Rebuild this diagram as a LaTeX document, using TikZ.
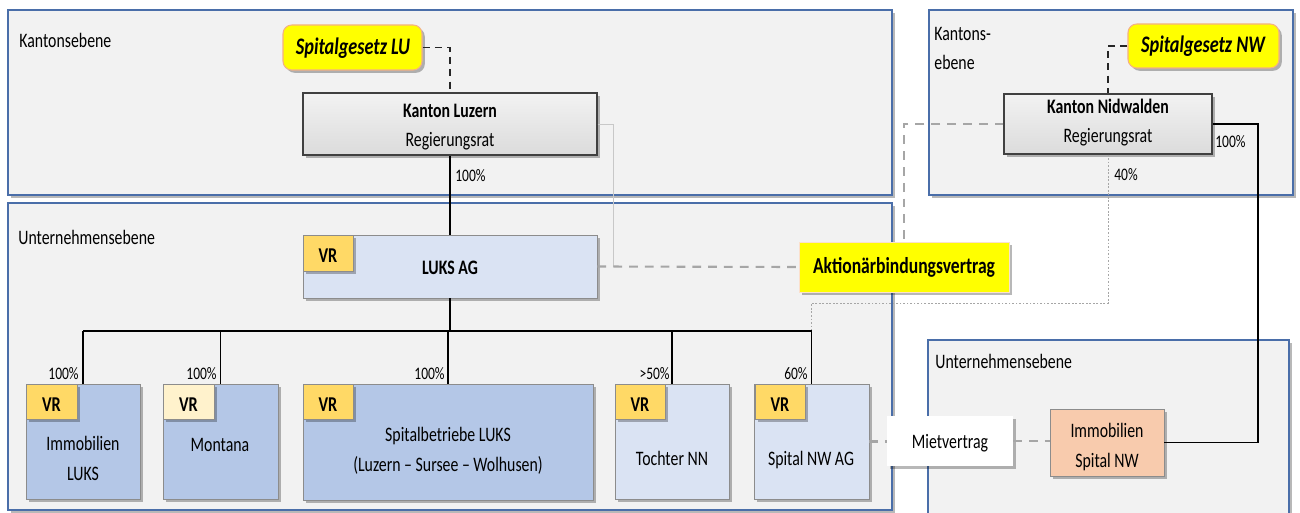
\documentclass[tikz,border=0pt]{standalone}
\usepackage{fontspec}
\setmainfont[FakeStretch=0.77]{Carlito}
\usetikzlibrary{fit,shadows}
\definecolor{panelfill}{HTML}{F2F2F2}
\definecolor{panelline}{HTML}{4A6EA9}
\definecolor{lightblue}{HTML}{DAE3F3}
\definecolor{midblue}{HTML}{B4C7E7}
\definecolor{vrgold}{HTML}{FFD966}
\definecolor{vrpale}{HTML}{FFF2CC}
\definecolor{peach}{HTML}{F8CBAD}
\definecolor{lawyellow}{HTML}{FFFF00}
\definecolor{lawedge}{HTML}{F4B183}
\definecolor{boxedge}{HTML}{8C8C8C}
\definecolor{linkgray}{HTML}{A6A6A6}
\definecolor{thingray}{HTML}{C8C8C8}
\begin{document}
\begin{tikzpicture}[x=0.02cm, y=-0.02cm,
  shade/.style={drop shadow={shadow xshift=1.6pt, shadow yshift=-1.6pt, opacity=0.28, fill=black}},
  base/.style={inner sep=0pt},
  panel/.style={base, draw=panelline, line width=1.1pt, fill=panelfill, shade},
  txt/.style={inner sep=0pt, anchor=base, align=center, font=\fontsize{11.7}{17}\selectfont},
  panellabel/.style={txt, anchor=base west, align=left},
  kanton/.style={base, draw=black!75, line width=0.8pt, top color=gray!10, bottom color=gray!28, shade},
  law/.style={base, draw=lawedge, line width=0.6pt, fill=lawyellow, rounded corners=5pt, shade},
  lawtext/.style={txt, font=\fontsize{13.5}{17}\selectfont\bfseries\itshape},
  contractbox/.style={base, draw=lawedge!40, line width=0.4pt, fill=lawyellow, shade},
  contracttext/.style={txt, font=\fontsize{13}{17}\selectfont\bfseries},
  company/.style={base, draw=boxedge, line width=0.5pt, shade},
  vr/.style={base, draw=boxedge, line width=0.5pt, fill=vrgold, shade},
  vrtext/.style={txt, font=\fontsize{12}{14}\selectfont\bfseries},
  pct/.style={inner sep=0pt, font=\fontsize{10}{12}\selectfont},
  lawlink/.style={draw=black!85, line width=0.9pt, dash pattern=on 4pt off 3pt},
  own/.style={draw=black, line width=0.8pt},
  busline/.style={draw=black, line width=1.2pt},
  contract/.style={draw=linkgray, line width=1.2pt, dash pattern=on 5pt off 4pt},
  dotlink/.style={draw=linkgray, line width=0.5pt, dash pattern=on 1pt off 1pt},
  thinlink/.style={draw=thingray, line width=0.5pt}
]
\useasboundingbox (0,0) rectangle (1300,513);

% panels
\node[panel, fit={(8,10)(892,195)}] (pLUk) {};
\node[panel, fit={(929,10)(1293,195)}] (pNWk) {};
\node[panel, fit={(8,203)(892,510)}] (pLUu) {};
\node[panel, fit={(928,340)(1289,514)}] (pNWu) {};
\node[panellabel] (lLUk) at (19,48) {Kantonsebene};
\node[panellabel] (lLUu) at (18,244) {Unternehmensebene};
\node[panellabel] (lNWk) at (934,70) {Kantons-\\ebene};
\node[panellabel] (lNWu) at (935,368) {Unternehmensebene};

% canton level
\node[law, fit={(283,25)(422,70)}] (SLU) {};
\node[lawtext] (tSLU) at (353,55) {Spitalgesetz LU};
\node[law, fit={(1128,24)(1279,68)}] (SNW) {};
\node[lawtext] (tSNW) at (1203,53) {Spitalgesetz NW};
\node[kanton, fit={(303,93)(597,155)}] (KL) {};
\node[txt] (tKL) at (450,147) {\textbf{Kanton Luzern}\\Regierungsrat};
\node[kanton, fit={(1004,94)(1212,154)}] (KN) {};
\node[txt] (tKN) at (1108,143) {\textbf{Kanton Nidwalden}\\Regierungsrat};

% company level
\node[company, fill=lightblue, fit={(303,235)(597,298)}] (LUKS) {};
\node[txt, font=\fontsize{11.7}{17}\selectfont\bfseries] (tLUKS) at (450,274) {LUKS AG};
\node[contractbox, fit={(799,242)(1009,292)}] (AV) {};
\node[contracttext] (tAV) at (904,273) {Aktionärbindungsvertrag};
\node[company, fill=midblue, fit={(26,384)(140,499)}] (IL) {};
\node[company, fill=midblue, fit={(163,384)(278,499)}] (MO) {};
\node[company, fill=midblue, fit={(303,384)(593,500)}] (SB) {};
\node[company, fill=lightblue, fit={(615,384)(729,499)}] (TN) {};
\node[company, fill=lightblue, fit={(754,384)(869,499)}] (SNWAG) {};
\node[base, fill=white, shade, fit={(887,416)(1013,466)}] (MV) {};
\node[txt] (tMV) at (950,448) {Mietvertrag};
\node[company, fill=peach, fit={(1050,409)(1164,476)}] (ISNW) {};

% VR boxes
\node[vr, fit={(303,235)(353,271)}] (vrLUKS) {};
\node[vrtext] (tvrLUKS) at (328,262) {VR};
\node[vr, fit={(26,384)(77,419)}] (vrIL) {};
\node[vrtext] (tvrIL) at (51.5,411) {VR};
\node[vr, fill=vrpale, fit={(163,384)(214,419)}] (vrMO) {};
\node[vrtext] (tvrMO) at (188.5,411) {VR};
\node[vr, fit={(303,384)(353,419)}] (vrSB) {};
\node[vrtext] (tvrSB) at (328,411) {VR};
\node[vr, fit={(615,384)(665,419)}] (vrTN) {};
\node[vrtext] (tvrTN) at (640,411) {VR};
\node[vr, fit={(755,384)(805,419)}] (vrSNW) {};
\node[vrtext] (tvrSNW) at (780,411) {VR};

% box texts
\node[txt] (tIL) at (83,480) {Immobilien\\LUKS};
\node[txt] (tMO) at (220,451) {Montana};
\node[txt] (tSB) at (448,471) {Spitalbetriebe LUKS\\(Luzern – Sursee – Wolhusen)};
\node[txt] (tTN) at (672,465) {Tochter NN};
\node[txt] (tSNWAG) at (811,465) {Spital NW AG};
\node[txt] (tISNW) at (1107,467) {Immobilien\\Spital NW};

% helper coordinates
\coordinate (bus) at (450,331);
\coordinate (jKL) at (613,267);
\coordinate (jNW) at (812,303);
\coordinate (jIS) at (1258,441);

% connectors
\draw[lawlink] (SLU.east) -| (KL.north);
\draw[lawlink] (SNW.west) -| (KN.north);
\draw[own] (KL.south) -- (LUKS.north);
\draw[thinlink] (KL.east) -| (jKL);
\draw[contract] (LUKS.east) -- (AV.west);
\draw[contract] (KN.west) -| (AV.north);
\draw[dotlink] (KN.south) |- (SNWAG.north |- jNW) -- (SNWAG.north |- bus);
\draw[own] (KN.east) -| (jIS |- ISNW.east) -- (ISNW.east);
\draw[own] (LUKS.south) -- (bus);
\draw[busline] (IL.north |- bus) -- (SNWAG.north |- bus);
\foreach \n in {IL,MO,SB,TN,SNWAG} \draw[own, line width=0.7pt] (\n.north |- bus) -- (\n.north);
\draw[contract] (SNWAG.east) -- (SNWAG.east -| MV.west);
\draw[contract] (MV.east) -- (MV.east -| ISNW.west);

% percentages
\node[pct, anchor=base west] (pKL) at (455,181) {100\%};
\node[pct, anchor=base west] (pKN) at (1215,148) {100\%};
\node[pct, anchor=base west] (pKN2) at (1114,180) {40\%};
\node[pct, anchor=base east] (pIL) at (79,379) {100\%};
\node[pct, anchor=base east] (pMO) at (217,379) {100\%};
\node[pct, anchor=base east] (pSB) at (445,379) {100\%};
\node[pct, anchor=base east] (pTN) at (670,379) {>50\%};
\node[pct, anchor=base east] (pSNW) at (808,379) {60\%};
\end{tikzpicture}
\end{document}
